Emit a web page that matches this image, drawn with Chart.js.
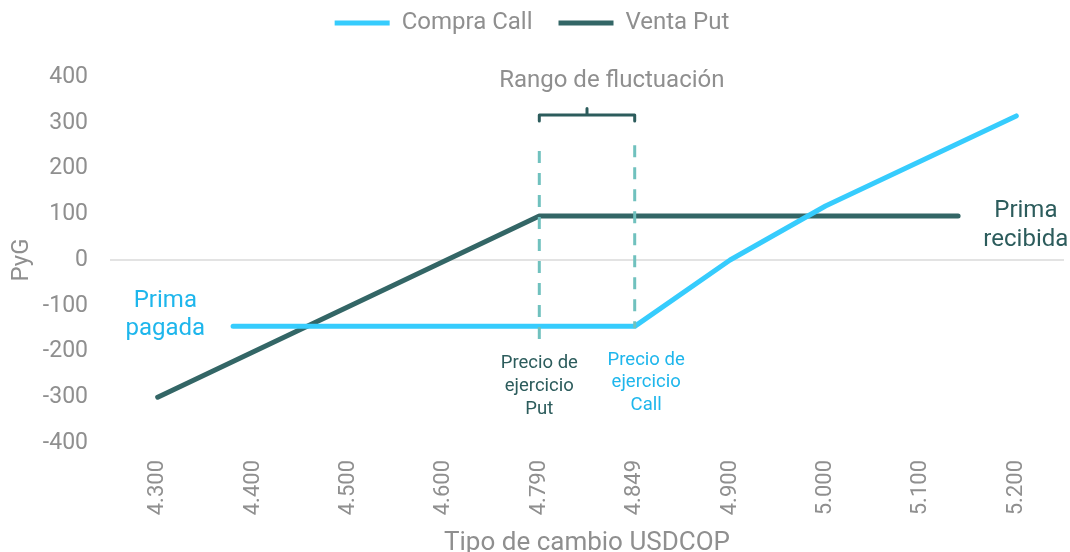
<!DOCTYPE html>
<html>
<head>
<meta charset="utf-8">
<script src="https://cdn.jsdelivr.net/npm/chart.js@4/dist/chart.umd.min.js"></script>
<style>
html,body{margin:0;padding:0;background:#fff;}
#wrap{width:1070px;height:552px;}
</style>
</head>
<body>
<div id="wrap"><canvas id="c" width="1070" height="552"></canvas></div>
<script>
// Tick labels of the x axis (categories, evenly spaced)
const categories = ['4.300','4.400','4.500','4.600','4.790','4.849','4.900','5.000','5.100','5.200'];
// Series (x as position along the category axis, y = PyG)
const compraCallX = [0.79, 5, 6, 7, 9];
const compraCallY = [-145, -145, 0, 118, 315];
const ventaPutX = [0, 4, 8.39];
const ventaPutY = [-300, 96, 96];
// Y ticks
const yMin = -400, yMax = 400, yStep = 100;

const CALL = '#36CCFD';
const PUT = '#336666';
const GRAY = '#8f8f8f';
const DASH = '#70C1BE';
const FONT = 'Roboto';

const toPts = (xs, ys) => xs.map((x, i) => ({x: x, y: ys[i]}));

const annot = {
  id: 'annot',
  afterDatasetsDraw(chart) {
    const ctx = chart.ctx, xs = chart.scales.x, ys = chart.scales.y;
    const X = v => xs.getPixelForValue(v), Y = v => ys.getPixelForValue(v);
    ctx.save();
    // dashed strike lines
    ctx.strokeStyle = DASH; ctx.lineWidth = 3; ctx.setLineDash([12, 10]);
    ctx.beginPath(); ctx.moveTo(X(4), Y(238)); ctx.lineTo(X(4), Y(-181)); ctx.stroke();
    ctx.beginPath(); ctx.moveTo(X(5), Y(251)); ctx.lineTo(X(5), Y(-149)); ctx.stroke();
    ctx.setLineDash([]);
    // bracket
    ctx.strokeStyle = '#2c5c5c'; ctx.lineWidth = 3; ctx.lineJoin = 'round'; ctx.lineCap = 'round';
    ctx.beginPath();
    ctx.moveTo(X(4), Y(304)); ctx.lineTo(X(4), Y(317)); ctx.lineTo(X(5), Y(317)); ctx.lineTo(X(5), Y(304));
    ctx.moveTo(X(4.5), Y(317)); ctx.lineTo(X(4.5), Y(331));
    ctx.stroke();
    // texts
    ctx.textAlign = 'center'; ctx.textBaseline = 'middle';
    const txt = (lines, x, y, size, color, lh) => {
      ctx.font = size + 'px ' + FONT; ctx.fillStyle = color;
      lines.forEach((l, i) => ctx.fillText(l, x, y + i * lh));
    };
    txt(['Rango de fluctuación'], X(4.76), Y(391), 24, GRAY, 0);
    txt(['Precio de', 'ejercicio', 'Put'], X(4), Y(-225), 18.5, '#2c5c5c', 23);
    txt(['Precio de', 'ejercicio', 'Call'], X(5.12), Y(-219), 18.5, '#1EB6EC', 22.5);
    txt(['Prima', 'pagada'], X(0.08), Y(-89), 24, '#1EB6EC', 28);
    txt(['Prima', 'recibida'], X(9.10), Y(108), 24, '#2c5c5c', 29);
    ctx.restore();
  }
};

const legendMargin = {
  id: 'legendMargin',
  beforeInit(chart) {
    const fit = chart.legend.fit;
    chart.legend.fit = function() { fit.bind(chart.legend)(); this.height = 92; };
  }
};

new Chart(document.getElementById('c'), {
  type: 'line',
  data: {
    datasets: [
      {label: 'Compra Call', data: toPts(compraCallX, compraCallY), borderColor: CALL, backgroundColor: CALL,
       borderWidth: 5, pointRadius: 0, borderCapStyle: 'round', borderJoinStyle: 'round', tension: 0},
      {label: 'Venta Put', data: toPts(ventaPutX, ventaPutY), borderColor: PUT, backgroundColor: PUT,
       borderWidth: 5, pointRadius: 0, borderCapStyle: 'round', borderJoinStyle: 'round', tension: 0}
    ]
  },
  options: {
    responsive: false,
    animation: false,
    layout: {padding: {left: 0, right: 6, top: -15, bottom: 0}},
    plugins: {
      tooltip: {enabled: false},
      legend: {
        position: 'top',
        labels: {
          font: {family: FONT, size: 24}, color: GRAY, boxWidth: 55, boxHeight: 5, padding: 26,
          generateLabels(chart) {
            return chart.data.datasets.map((d, i) => ({
              text: d.label, fillStyle: d.borderColor, strokeStyle: d.borderColor, lineWidth: 0,
              datasetIndex: i, fontColor: GRAY
            }));
          }
        }
      }
    },
    scales: {
      x: {
        type: 'linear', min: -0.5, max: categories.length - 0.5,
        afterBuildTicks(axis) { axis.ticks = categories.map((c, i) => ({value: i})); },
        afterFit(axis) { axis.height = 109; },
        ticks: {
          callback: (v) => categories[v], color: GRAY, font: {family: FONT, size: 22},
          maxRotation: 90, minRotation: 90, padding: 17, autoSkip: false
        },
        grid: {display: false, drawTicks: false},
        border: {display: false},
        title: {display: true, text: 'Tipo de cambio USDCOP', color: GRAY, font: {family: FONT, size: 26}, padding: {top: -7, bottom: -7}}
      },
      y: {
        min: yMin, max: yMax,
        afterFit(axis) { axis.width = 110; },
        ticks: {stepSize: yStep, color: GRAY, font: {family: FONT, size: 23}, padding: 22},
        grid: {
          drawTicks: false,
          color: (c) => c.tick && c.tick.value === 0 ? '#e3e3e3' : 'rgba(0,0,0,0)',
          lineWidth: 2
        },
        border: {display: false},
        title: {display: true, text: 'PyG', color: GRAY, font: {family: FONT, size: 24}, padding: {top: 8, bottom: 0}}
      }
    }
  },
  plugins: [annot, legendMargin]
});
</script>
</body>
</html>
